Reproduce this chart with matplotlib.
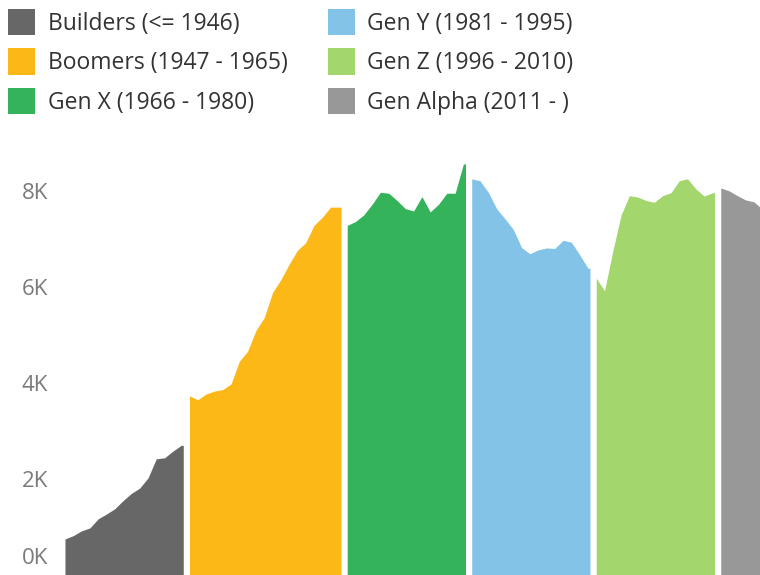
import matplotlib
matplotlib.use('Agg')
import matplotlib.pyplot as plt
from matplotlib.patches import Patch
from matplotlib.transforms import ScaledTranslation

plt.rcParams['font.family'] = ['Open Sans', 'DejaVu Sans']

# generaciones: nombre, anos, valores (miles)
names = ['Builders (<= 1946)', 'Boomers (1947 - 1965)', 'Gen X (1966 - 1980)',
         'Gen Y (1981 - 1995)', 'Gen Z (1996 - 2010)', 'Gen Alpha (2011 - )']
colors = ['#676767', '#FCB817', '#35B35A', '#84C3E8', '#A3D66D', '#989898']

builders_years = list(range(1932, 1947))
builders_vals = [750, 820, 920, 980, 1170, 1270, 1380, 1550, 1700, 1810,
                 2020, 2420, 2440, 2580, 2700]

boomers_years = list(range(1947, 1966))
boomers_vals = [3730, 3650, 3770, 3830, 3860, 3980, 4450, 4660, 5090, 5360,
                5880, 6150, 6470, 6760, 6920, 7280, 7450, 7660, 7660]

genx_years = list(range(1966, 1981))
genx_vals = [7280, 7360, 7500, 7720, 7970, 7950, 7800, 7630, 7580, 7880,
             7560, 7720, 7950, 7950, 8560]

geny_years = list(range(1981, 1996))
geny_vals = [8250, 8210, 7970, 7630, 7420, 7200, 6820, 6690, 6770, 6810,
             6800, 6970, 6930, 6670, 6390]

genz_years = list(range(1996, 2011))
genz_vals = [6180, 5920, 6750, 7500, 7900, 7870, 7800, 7760, 7900, 7960,
             8210, 8250, 8040, 7890, 7960]

alpha_years = list(range(2011, 2017))
alpha_vals = [8060, 8000, 7900, 7810, 7770, 7620]

series = [(builders_years, builders_vals), (boomers_years, boomers_vals),
          (genx_years, genx_vals), (geny_years, geny_vals),
          (genz_years, genz_vals), (alpha_years, alpha_vals)]

fig = plt.figure(figsize=(7.6, 5.75), dpi=100)
ax = fig.add_axes([60 / 760, 0, 700 / 760, 425 / 575])

for (yrs, vals), c in zip(series, colors):
    # alargar un poco el ultimo ano para que el hueco quede estrecho
    xs = list(yrs) + [yrs[-1] + 0.25]
    ys = list(vals) + [vals[-1]]
    ax.fill_between(xs, 0, ys, color=c, linewidth=0)

ax.set_xlim(1931.4, 2015.73)
ax.set_ylim(0, 8850)
ax.set_yticks([0, 2000, 4000, 6000, 8000])
ax.set_yticklabels(['0K', '2K', '4K', '6K', '8K'])
ax.set_xticks([])
ax.tick_params(axis='y', length=0, pad=8.6, labelsize=16, labelcolor='#7a7a7a')
for s in ax.spines.values():
    s.set_visible(False)

# el 0K se sube para que no se corte
lab0 = ax.get_yticklabels()[0]
lab0.set_transform(lab0.get_transform() + ScaledTranslation(0, 19 / 100, fig.dpi_scale_trans))

handles = [Patch(facecolor=c, label=n) for c, n in zip(colors, names)]
fig.legend(handles=handles, loc='upper left',
           bbox_to_anchor=(8 / 760, 1 - 9 / 575), ncol=2, frameon=False,
           fontsize=16.5, handlelength=1.18, handleheight=1.4,
           handletextpad=0.55, labelspacing=0.55, columnspacing=1.75,
           borderpad=0, borderaxespad=0, labelcolor='#333333')

fig.savefig('out.png', dpi=100)
